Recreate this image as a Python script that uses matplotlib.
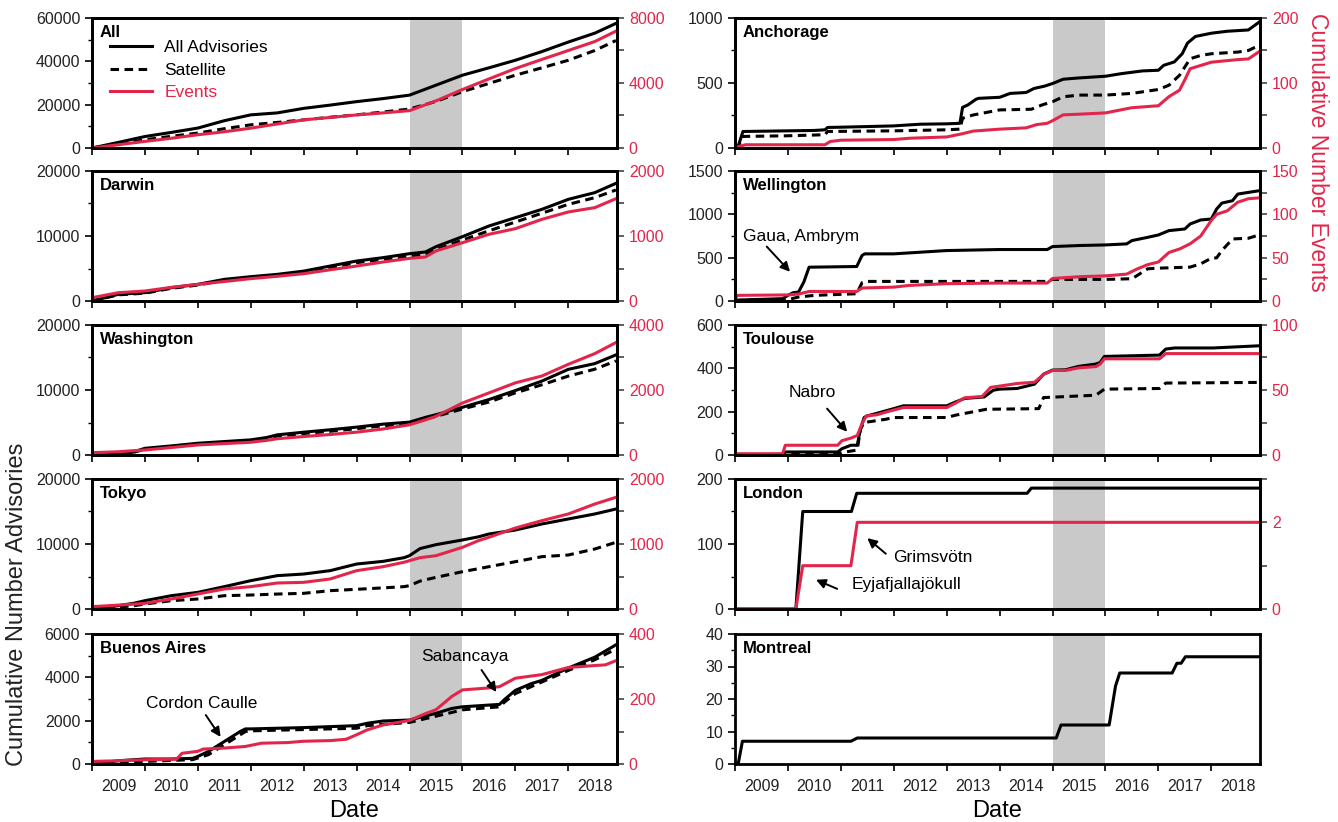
import matplotlib.pyplot as plt
from matplotlib.ticker import MultipleLocator, FixedLocator, NullFormatter, FuncFormatter
import numpy as np

plt.rcParams['font.family'] = ['Liberation Sans', 'DejaVu Sans']

RED = '#e2264b'
BAND = '#c9c9c9'
YEARS = list(range(2009, 2019))

# ---- All ----
all_t = [2009.0, 2009.5, 2010.0, 2010.5, 2011.0, 2011.5, 2012.0, 2012.5, 2013.0, 2013.5, 2014.0,
         2014.5, 2015.0, 2015.5, 2016.0, 2016.5, 2017.0, 2017.5, 2018.0, 2018.5, 2018.9]
all_adv = [0, 2600, 5300, 7200, 9200, 12600, 15300, 16200, 18300, 19800, 21400,
           22800, 24400, 29000, 33600, 37000, 40500, 44500, 48900, 53000, 57500]
all_sat = [0, 1800, 3800, 5400, 6900, 8900, 10700, 11800, 13000, 14200, 15300,
           16600, 18000, 21500, 26000, 29800, 33600, 37000, 40500, 45000, 49600]
all_ev = [0, 200, 407, 600, 815, 1000, 1220, 1480, 1730, 1880, 2035,
          2160, 2300, 2900, 3600, 4250, 4890, 5450, 6000, 6550, 7190]

# ---- Darwin ----
dar_t = [2009.0, 2009.5, 2010.0, 2010.5, 2011.0, 2011.5, 2012.0, 2012.5, 2013.0, 2013.5, 2014.0,
         2014.5, 2015.0, 2015.3, 2015.5, 2016.0, 2016.5, 2017.0, 2017.5, 2018.0, 2018.5, 2018.9]
dar_adv = [0, 1030, 1280, 2050, 2560, 3330, 3740, 4100, 4600, 5380, 6150,
           6670, 7280, 7540, 8360, 9900, 11540, 12820, 14100, 15640, 16670, 18100]
dar_sat = [0, 950, 1200, 1950, 2450, 3200, 3600, 3950, 4450, 5150, 5900,
           6400, 6920, 7150, 7900, 9380, 10800, 12150, 13500, 14870, 15900, 17080]
dar_ev = [51, 128, 154, 210, 256, 300, 344, 380, 420, 480, 538,
          600, 656, 677, 770, 897, 1026, 1113, 1256, 1370, 1436, 1574]

# ---- Washington ----
was_t = [2009.0, 2009.5, 2009.7, 2010.0, 2010.5, 2011.0, 2011.5, 2012.0, 2012.3, 2012.5, 2013.0, 2013.5,
         2014.0, 2014.5, 2015.0, 2015.3, 2015.5, 2016.0, 2016.5, 2017.0, 2017.5, 2018.0, 2018.5, 2018.9]
was_adv = [0, 100, 260, 1030, 1400, 1810, 2070, 2330, 2690, 3100, 3510, 3880,
           4290, 4750, 5060, 5790, 6200, 7340, 8530, 9920, 11370, 13180, 14060, 15400]
was_sat = [0, 80, 200, 900, 1250, 1650, 1900, 2150, 2500, 2900, 3300, 3650,
           4050, 4500, 4800, 5550, 5950, 7080, 8150, 9560, 10800, 12140, 13200, 14470]
was_ev = [72, 100, 124, 155, 230, 310, 350, 392, 450, 500, 568, 630,
          703, 800, 930, 1080, 1190, 1600, 1910, 2220, 2430, 2790, 3120, 3460]

# ---- Tokyo ----
tok_t = [2009.0, 2009.5, 2009.8, 2010.0, 2010.5, 2011.0, 2011.5, 2012.0, 2012.5, 2013.0, 2013.5, 2014.0, 2014.5,
         2014.9, 2015.0, 2015.2, 2015.5, 2016.0, 2016.3, 2016.5, 2017.0, 2017.5, 2018.0, 2018.5, 2018.9]
tok_adv = [0, 510, 900, 1280, 2050, 2560, 3440, 4360, 5130, 5380, 5900, 6920, 7330,
           7900, 8210, 9300, 9900, 10620, 11100, 11540, 12150, 13080, 13850, 14620, 15380]
tok_sat = [0, 300, 510, 770, 1280, 1540, 2050, 2150, 2300, 2410, 2820, 3030, 3250,
           3440, 3600, 4300, 4870, 5740, 6200, 6510, 7280, 8050, 8310, 9230, 10260]
tok_ev = [36, 60, 75, 87, 154, 231, 308, 344, 400, 410, 462, 590, 651,
          720, 744, 790, 820, 949, 1051, 1103, 1246, 1359, 1462, 1615, 1718]

# ---- Buenos Aires ----
bue_adv_t = [2009.0, 2009.5, 2010.0, 2010.5, 2010.9, 2011.0, 2011.2, 2011.4, 2011.6, 2011.8, 2011.9, 2012.0,
             2013.0, 2013.5, 2014.0, 2014.2, 2014.5, 2015.0, 2015.5, 2015.8, 2016.0, 2016.5, 2016.7, 2016.8,
             2017.0, 2017.3, 2017.5, 2018.0, 2018.5, 2018.9]
bue_adv = [0, 150, 230, 230, 260, 350, 580, 885, 1190, 1500, 1620, 1620,
           1680, 1725, 1770, 1880, 1985, 2030, 2340, 2565, 2640, 2720, 2750, 2990,
           3400, 3710, 3860, 4430, 4930, 5500]
bue_sat_t = [2009.0, 2010.0, 2010.9, 2011.2, 2011.9, 2012.0, 2014.0, 2014.2, 2015.0, 2015.8, 2016.0,
             2016.7, 2016.8, 2017.0, 2018.0, 2018.5, 2018.9]
bue_sat = [0, 120, 200, 430, 1500, 1530, 1650, 1770, 1920, 2380, 2500,
           2640, 2870, 3250, 4320, 4810, 5310]
bue_ev_t = [2009.0, 2009.5, 2010.0, 2010.6, 2010.7, 2011.0, 2011.1, 2011.5, 2011.9, 2012.2, 2012.7, 2013.0,
            2013.5, 2013.8, 2014.0, 2014.2, 2014.5, 2015.0, 2015.3, 2015.5, 2015.8, 2016.0, 2016.5, 2016.7,
            2017.0, 2017.5, 2018.0, 2018.5, 2018.7, 2018.9]
bue_ev = [8, 10, 13, 15, 33, 39, 46, 49, 54, 64, 66, 70,
          72, 76, 90, 105, 120, 134, 155, 167, 208, 228, 234, 238,
          264, 275, 297, 303, 305, 318]

# ---- Anchorage ----
anc_adv_t = [2009.0, 2009.05, 2009.15, 2010.0, 2010.5, 2010.7, 2010.75, 2011.0, 2011.5, 2012.0, 2012.3, 2012.5,
             2013.0, 2013.25, 2013.3, 2013.4, 2013.55, 2013.6, 2014.0, 2014.2, 2014.5, 2014.65, 2014.85, 2015.0,
             2015.2, 2015.5, 2016.0, 2016.3, 2016.7, 2017.0, 2017.1, 2017.3, 2017.45, 2017.55, 2017.7, 2018.0,
             2018.3, 2018.5, 2018.7, 2018.9]
anc_adv = [0, 0, 127, 132, 135, 140, 158, 160, 165, 170, 178, 183,
           186, 190, 313, 331, 374, 382, 390, 420, 427, 458, 476, 496,
           529, 539, 552, 572, 593, 598, 636, 662, 725, 807, 858, 883,
           898, 903, 908, 967]
anc_sat_t = [2009.0, 2009.05, 2009.15, 2010.0, 2010.7, 2010.75, 2012.0, 2013.0, 2013.25, 2013.3, 2013.5, 2014.0,
             2014.6, 2014.8, 2015.0, 2015.2, 2015.5, 2016.0, 2016.5, 2017.0, 2017.2, 2017.4, 2017.6, 2017.8,
             2018.0, 2018.5, 2018.7, 2018.9]
anc_sat = [0, 0, 89, 94, 102, 127, 132, 140, 145, 229, 254, 293,
           298, 331, 356, 394, 407, 407, 420, 450, 483, 560, 687, 712,
           725, 738, 750, 789]
anc_ev_t = [2009.0, 2009.1, 2009.2, 2010.7, 2010.8, 2011.0, 2012.0, 2012.3, 2013.0, 2013.3, 2013.5, 2014.0,
            2014.5, 2014.7, 2014.9, 2015.0, 2015.2, 2015.5, 2016.0, 2016.5, 2017.0, 2017.2, 2017.4, 2017.5,
            2017.6, 2017.8, 2018.0, 2018.5, 2018.7, 2018.9]
anc_ev = [0, 3, 5, 5, 10, 12, 13, 15, 17, 22, 26, 29,
          31, 36, 38, 42, 51, 52, 54, 62, 65, 79, 89, 105,
          122, 127, 132, 136, 137, 148]

# ---- Wellington ----
wel_adv_t = [2009.0, 2009.9, 2010.0, 2010.1, 2010.2, 2010.3, 2010.4, 2011.3, 2011.4, 2011.45, 2012.0, 2012.5,
             2013.0, 2014.0, 2014.9, 2015.0, 2015.5, 2016.0, 2016.4, 2016.5, 2016.8, 2017.0, 2017.2, 2017.5,
             2017.6, 2017.8, 2018.0, 2018.1, 2018.2, 2018.4, 2018.5, 2018.7, 2018.9]
wel_adv = [10, 27, 65, 96, 103, 218, 390, 398, 525, 544, 544, 563,
           582, 594, 594, 628, 640, 647, 659, 697, 735, 762, 812, 831,
           889, 935, 946, 1061, 1130, 1157, 1234, 1253, 1272]
wel_sat_t = [2009.0, 2010.0, 2010.2, 2010.5, 2011.3, 2011.4, 2011.5, 2014.9, 2015.0, 2016.0, 2016.5, 2016.6,
             2016.8, 2017.0, 2017.6, 2017.8, 2018.0, 2018.1, 2018.2, 2018.4, 2018.7, 2018.9]
wel_sat = [5, 15, 46, 65, 84, 211, 226, 226, 249, 249, 257, 295,
           372, 379, 391, 429, 494, 498, 582, 716, 724, 762]
wel_ev_t = [2009.0, 2009.05, 2010.0, 2010.2, 2010.4, 2011.3, 2011.4, 2012.0, 2012.3, 2013.0, 2014.0, 2014.9,
            2015.0, 2015.5, 2016.0, 2016.4, 2016.6, 2016.8, 2017.0, 2017.2, 2017.4, 2017.6, 2017.8, 2018.0,
            2018.1, 2018.3, 2018.5, 2018.7, 2018.9]
wel_ev = [3, 6.5, 7, 8, 11, 11, 15, 16, 18, 20, 20.7, 20.7,
          26, 28, 29, 31, 37, 42, 45, 56, 60, 66, 75, 93,
          100, 104, 114, 118, 119]

# ---- Toulouse ----
tou_adv_t = [2009.0, 2009.9, 2009.95, 2010.94, 2011.02, 2011.19, 2011.31, 2011.37, 2011.44, 2011.49, 2011.69,
             2011.85, 2012.0, 2012.18, 2013.0, 2013.17, 2013.34, 2013.71, 2013.88, 2014.0, 2014.33, 2014.66,
             2014.83, 2015.0, 2015.24, 2015.49, 2015.82, 2015.9, 2015.98, 2017.02, 2017.14, 2017.31, 2018.03, 2018.9]
tou_adv = [0, 0, 14, 14, 29, 45, 45, 119, 173, 180, 193,
           204, 214, 227, 227, 245, 261, 268, 299, 304, 307, 327,
           373, 392, 393, 409, 420, 427, 455, 461, 489, 494, 494, 504]
tou_sat_t = [2009.0, 2009.95, 2010.94, 2011.02, 2011.31, 2011.37, 2011.44, 2011.85, 2012.0, 2013.0, 2013.17,
             2013.75, 2014.74, 2014.83, 2015.82, 2015.98, 2017.02, 2017.14, 2018.9]
tou_sat = [0, 3, 3, 11, 23, 119, 150, 165, 173, 173, 184,
           211, 214, 265, 276, 304, 307, 332, 335]
tou_ev_t = [2009.0, 2009.9, 2009.95, 2010.94, 2011.02, 2011.19, 2011.31, 2011.4, 2011.48, 2011.69, 2011.85,
            2012.18, 2013.0, 2013.17, 2013.34, 2013.67, 2013.83, 2014.0, 2014.33, 2014.66, 2014.83, 2015.0,
            2015.24, 2015.49, 2015.82, 2015.9, 2015.98, 2017.02, 2017.14, 2018.9]
tou_ev = [1, 1, 7.5, 7.5, 11, 13, 15, 24, 30, 31, 33,
          36.5, 36.5, 40, 44, 45, 52, 53, 55, 56, 62, 65,
          65, 67, 68, 70, 74, 74, 78, 78]

# ---- London ----
lon_adv_t = [2009.0, 2010.15, 2010.28, 2011.2, 2011.3, 2014.52, 2014.6, 2018.9]
lon_adv = [0, 0, 150, 150, 178, 178, 186, 186]
lon_ev_t = [2009.0, 2010.15, 2010.28, 2011.19, 2011.31, 2018.9]
lon_ev = [0, 0, 1, 1, 2, 2]

# ---- Montreal ----
mon_adv_t = [2009.0, 2009.06, 2009.14, 2011.19, 2011.31, 2015.07, 2015.16, 2016.07, 2016.19, 2016.27,
             2017.26, 2017.35, 2017.43, 2017.51, 2018.9]
mon_adv = [0, 0, 7, 7, 8, 8, 12, 12, 24, 28, 28, 31, 31, 33, 33]


fig = plt.figure(figsize=(13.38, 8.22), dpi=100)
W, H = 1338.0, 822.0
col_x = [92 / W, 735 / W]
col_w = 525 / W
row_bottom = [148, 301, 455, 609, 764]
row_h = 130 / H


def make_axes(col, row):
    return fig.add_axes([col_x[col], 1 - row_bottom[row] / H, col_w, row_h])


def style_axes(ax, name, ylim, ymaj, ymin, bottom):
    ax.axvspan(2015, 2016, color=BAND, lw=0, zorder=0)
    ax.set_xlim(2009, 2018.92)
    ax.set_ylim(*ylim)
    ax.yaxis.set_major_locator(MultipleLocator(ymaj))
    ax.yaxis.set_minor_locator(MultipleLocator(ymin))
    ax.xaxis.set_major_locator(FixedLocator(YEARS))
    ax.xaxis.set_major_formatter(NullFormatter())
    if bottom:
        ax.xaxis.set_minor_locator(FixedLocator([y + 0.5 for y in YEARS]))
        ax.xaxis.set_minor_formatter(FuncFormatter(lambda v, p: str(int(v))))
        ax.tick_params(axis='x', which='minor', length=0, pad=11, labelsize=11.5, labelcolor='#222222')
    else:
        ax.xaxis.set_minor_locator(FixedLocator([]))
    ax.tick_params(axis='both', which='major', direction='out', length=5, width=1.2,
                   labelsize=11.5, labelcolor='#222222')
    ax.tick_params(axis='y', which='minor', direction='out', length=3, width=1.0)
    for s in ax.spines.values():
        s.set_linewidth(2.0)
    ax.text(0.015, 0.885, name, transform=ax.transAxes, fontsize=12, fontweight='bold',
            va='center', ha='left')


def add_events(ax, t, v, rlim, rstep):
    ax2 = ax.twinx()
    ax2.plot(t, v, color=RED, lw=2.2, solid_joinstyle='round')
    ax2.set_ylim(*rlim)
    ticks = np.arange(rlim[0], rlim[1] + rstep / 2, rstep)
    ax2.yaxis.set_major_locator(FixedLocator(ticks))
    ax2.yaxis.set_major_formatter(FuncFormatter(
        lambda v, p: ('%d' % v) if round(v / rstep) % 2 == 0 else ''))
    ax2.tick_params(axis='y', direction='out', length=5, width=1.2, labelsize=11.5,
                    labelcolor=RED, color='#444444')
    for s in ax2.spines.values():
        s.set_linewidth(2.0)
    return ax2


def advisories(ax, t, v, dashed=False):
    if dashed:
        ax.plot(t, v, color='k', lw=2.2, ls=(0, (2.8, 1.8)), label='Satellite')
    else:
        ax.plot(t, v, color='k', lw=2.2, label='All Advisories')


# All
ax = make_axes(0, 0)
style_axes(ax, 'All', (0, 60000), 20000, 10000, False)
advisories(ax, all_t, all_adv)
advisories(ax, all_t, all_sat, dashed=True)
ax.plot([], [], color=RED, lw=2.2, label='Events')
add_events(ax, all_t, all_ev, (0, 8000), 2000)
leg = ax.legend(loc='upper left', bbox_to_anchor=(0.035, 0.83), frameon=False, fontsize=12.5,
                handlelength=2.4, handletextpad=0.7, labelspacing=0.42, borderpad=0, borderaxespad=0)
leg.get_texts()[2].set_color(RED)

# Darwin
ax = make_axes(0, 1)
style_axes(ax, 'Darwin', (0, 20000), 10000, 5000, False)
advisories(ax, dar_t, dar_adv)
advisories(ax, dar_t, dar_sat, dashed=True)
add_events(ax, dar_t, dar_ev, (0, 2000), 500)

# Washington
ax = make_axes(0, 2)
style_axes(ax, 'Washington', (0, 20000), 10000, 5000, False)
advisories(ax, was_t, was_adv)
advisories(ax, was_t, was_sat, dashed=True)
add_events(ax, was_t, was_ev, (0, 4000), 1000)

# Tokyo
ax = make_axes(0, 3)
style_axes(ax, 'Tokyo', (0, 20000), 10000, 5000, False)
advisories(ax, tok_t, tok_adv)
advisories(ax, tok_t, tok_sat, dashed=True)
add_events(ax, tok_t, tok_ev, (0, 2000), 500)

# Buenos Aires
ax = make_axes(0, 4)
style_axes(ax, 'Buenos Aires', (0, 6000), 2000, 1000, True)
advisories(ax, bue_adv_t, bue_adv)
advisories(ax, bue_sat_t, bue_sat, dashed=True)
ax2 = add_events(ax, bue_ev_t, bue_ev, (0, 400), 100)
ax.set_xlabel('Date', fontsize=17, labelpad=4)
arrow = dict(arrowstyle='-|>', color='k', lw=1.4, mutation_scale=14, shrinkA=0, shrinkB=0)
ax2.text(2011.08, 2815 / 15, 'Cordon Caulle', fontsize=12.5, ha='center', va='center')
ax2.annotate('', xy=(2011.43, 1250 / 15), xytext=(2011.15, 2260 / 15), arrowprops=arrow)
ax2.text(2016.04, 4940 / 15, 'Sabancaya', fontsize=12.5, ha='center', va='center')
ax2.annotate('', xy=(2016.64, 3320 / 15), xytext=(2016.36, 4340 / 15), arrowprops=arrow)

# Anchorage
ax = make_axes(1, 0)
style_axes(ax, 'Anchorage', (0, 1000), 500, 250, False)
advisories(ax, anc_adv_t, anc_adv)
advisories(ax, anc_sat_t, anc_sat, dashed=True)
add_events(ax, anc_ev_t, anc_ev, (0, 200), 50)

# Wellington
ax = make_axes(1, 1)
style_axes(ax, 'Wellington', (0, 1500), 500, 250, False)
advisories(ax, wel_adv_t, wel_adv)
advisories(ax, wel_sat_t, wel_sat, dashed=True)
ax2 = add_events(ax, wel_ev_t, wel_ev, (0, 150), 25)
ax2.text(2010.25, 74.4, 'Gaua, Ambrym', fontsize=12.5, ha='center', va='center')
ax2.annotate('', xy=(2010.04, 33.7), xytext=(2009.6, 62.8), arrowprops=arrow)

# Toulouse
ax = make_axes(1, 2)
style_axes(ax, 'Toulouse', (0, 600), 200, 100, False)
advisories(ax, tou_adv_t, tou_adv)
advisories(ax, tou_sat_t, tou_sat, dashed=True)
ax2 = add_events(ax, tou_ev_t, tou_ev, (0, 100), 25)
ax2.text(2010.47, 288 / 6, 'Nabro', fontsize=12.5, ha='center', va='center')
ax2.annotate('', xy=(2011.12, 107 / 6), xytext=(2010.74, 214 / 6), arrowprops=arrow)

# London
ax = make_axes(1, 3)
style_axes(ax, 'London', (0, 200), 100, 50, False)
advisories(ax, lon_adv_t, lon_adv)
ax2 = add_events(ax, lon_ev_t, lon_ev, (0, 3), 1)
ax2.text(2011.98, 80 * 3 / 200, 'Grimsvötn', fontsize=12.5, ha='left', va='center')
ax2.annotate('', xy=(2011.5, 109 * 3 / 200), xytext=(2011.85, 85 * 3 / 200), arrowprops=arrow)
ax2.text(2011.2, 37 * 3 / 200, 'Eyjafjallajökull', fontsize=12.5, ha='left', va='center')
ax2.annotate('', xy=(2010.53, 45 * 3 / 200), xytext=(2010.93, 31 * 3 / 200), arrowprops=arrow)

# Montreal
ax = make_axes(1, 4)
style_axes(ax, 'Montreal', (0, 40), 10, 5, True)
advisories(ax, mon_adv_t, mon_adv)
ax.set_xlabel('Date', fontsize=17, labelpad=4)

fig.text(0.013, 0.265, 'Cumulative Number Advisories', rotation=90, fontsize=17,
         ha='center', va='center', color='#222222')
fig.text(0.985, 0.815, 'Cumulative Number Events', rotation=270, fontsize=16.5,
         ha='center', va='center', color=RED)

fig.savefig('out.png', dpi=100)
